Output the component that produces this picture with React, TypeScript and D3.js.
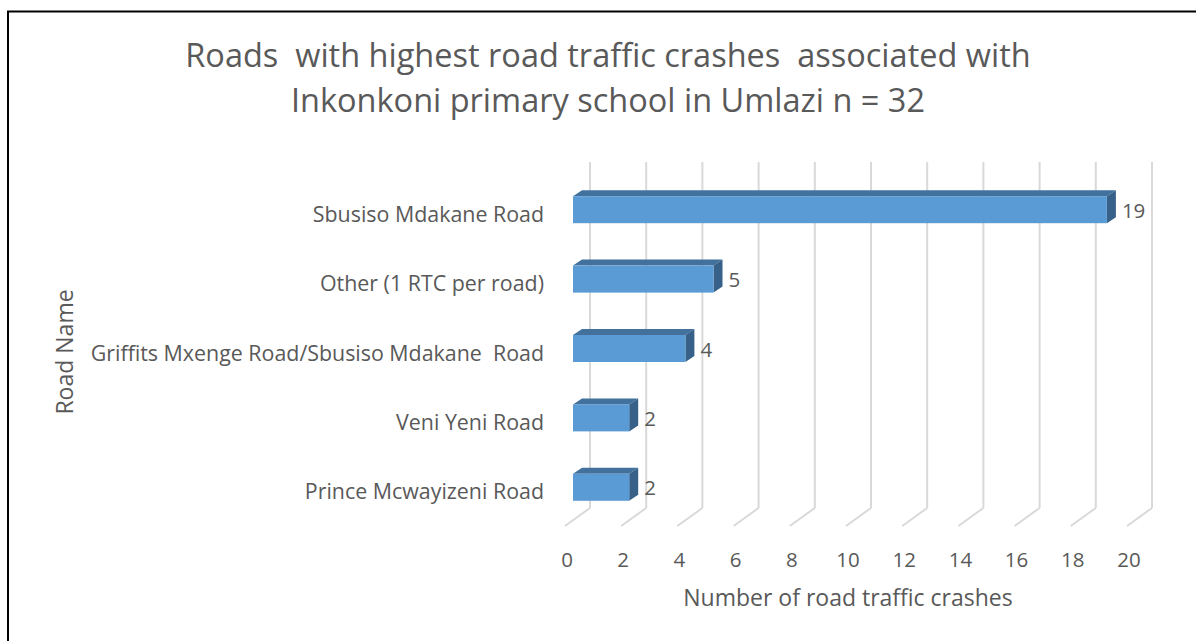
import React from "react";
import * as d3 from "d3";

const categories = [
  "Sbusiso Mdakane Road",
  "Other (1 RTC per road)",
  "Griffits Mxenge Road/Sbusiso Mdakane  Road",
  "Veni Yeni Road",
  "Prince Mcwayizeni Road",
];
const values = [19, 5, 4, 2, 2];
const xTicks = [0, 2, 4, 6, 8, 10, 12, 14, 16, 18, 20];
const titleLines = [
  "Roads  with highest road traffic crashes  associated with",
  "Inkonkoni primary school in Umlazi n = 32",
];
const xTitle = "Number of road traffic crashes";
const yTitle = "Road Name";

const FONT = "'Open Sans', Lato, sans-serif";
const TEXT = "#595959";

export default function App() {
  const W = 1196, H = 641;
  const xBack = d3.scaleLinear().domain([0, 20]).range([590, 1152]);
  const depthDx = -25, depthDy = 18;
  const gridTop = 162, floorY = 508;
  const xBar = d3.scaleLinear().domain([0, 20]).range([573, 573 + 562]);
  const y = d3.scaleBand<string>().domain(categories).range([175, 522]);
  const barH = 27;
  const dX = 9, dY = -6;

  return (
    <svg width={W} height={H} style={{ display: "block", position: "absolute", left: 0, top: 0 }}>
      <rect x={0} y={0} width={W} height={H} fill="#fff" />
      <path d={`M8,${H + 5} L8,11.5 L${W + 5},11.5`} fill="none" stroke="#000" strokeWidth={2} />
      {titleLines.map((t, i) => (
        <text key={i} x={608} y={67 + i * 45} textAnchor="middle" fontFamily={FONT} fontSize={32.5}
          fill={TEXT} style={{ whiteSpace: "pre" }}>{t}</text>
      ))}
      {xTicks.map((t) => (
        <g key={t}>
          <line x1={xBack(t)} x2={xBack(t)} y1={gridTop} y2={floorY} stroke="#d9d9d9" strokeWidth={2} />
          <line x1={xBack(t)} x2={xBack(t) + depthDx} y1={floorY} y2={floorY + depthDy} stroke="#d9d9d9" strokeWidth={2} />
          <text x={xBack(t) + depthDx + 2} y={567} textAnchor="middle" fontFamily={FONT} fontSize={20.5} fill={TEXT}>{t}</text>
        </g>
      ))}
      {categories.map((c, i) => {
        const cy = (y(c) as number) + y.bandwidth() / 2;
        const x0 = xBar(0), x1 = xBar(values[i]);
        const top = cy - barH / 2, bot = cy + barH / 2;
        return (
          <g key={c}>
            <path d={`M${x0},${top} L${x0 + dX},${top + dY} L${x1 + dX},${top + dY} L${x1},${top} Z`} fill="#41719c" />
            <path d={`M${x1},${top} L${x1 + dX},${top + dY} L${x1 + dX},${bot + dY} L${x1},${bot} Z`} fill="#386189" />
            <rect x={x0} y={top} width={x1 - x0} height={barH} fill="#5b9bd5" />
            <text x={x1 + 15} y={cy + 8} fontFamily={FONT} fontSize={20.5} fill={TEXT}>{values[i]}</text>
            <text x={544} y={cy + 12} textAnchor="end" fontFamily={FONT} fontSize={21.4} fill={TEXT}
              style={{ whiteSpace: "pre" }}>{c}</text>
          </g>
        );
      })}
      <text transform={`translate(73,352) rotate(-90)`} textAnchor="middle" fontFamily={FONT} fontSize={23} fill={TEXT}>{yTitle}</text>
      <text x={848} y={606} textAnchor="middle" fontFamily={FONT} fontSize={23} fill={TEXT}>{xTitle}</text>
    </svg>
  );
}
